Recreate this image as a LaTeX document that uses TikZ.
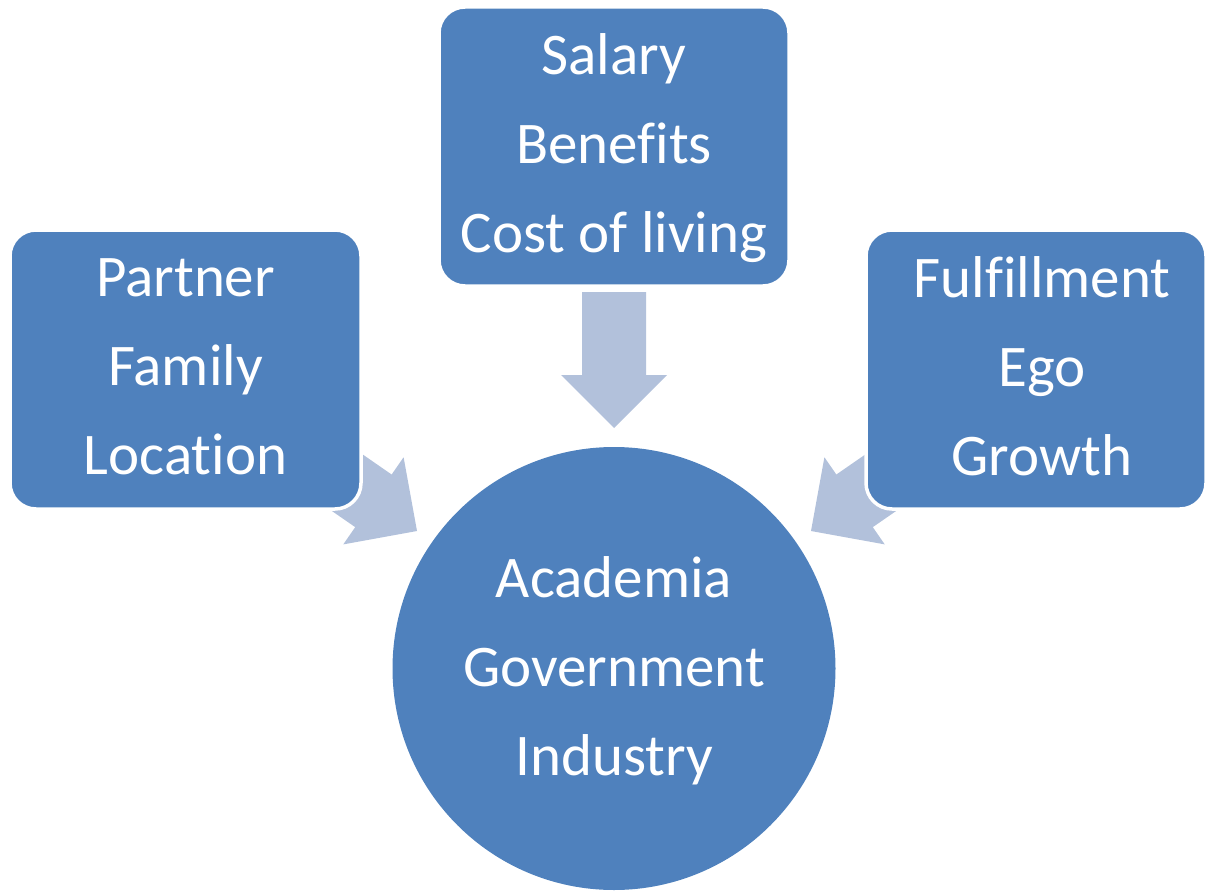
\documentclass[tikz,border=0pt]{standalone}
\usepackage{fontspec}
\setmainfont{Carlito}[Ligatures=NoCommon, RawFeature={-liga,-clig,-calt,-dlig}]
\definecolor{boxblue}{HTML}{4F81BD}
\definecolor{arrowblue}{HTML}{B2C1DB}
\newcommand{\lnstrut}{\rule[-16pt]{0pt}{54pt}}
\newcommand{\nl}{\kern0pt }
\tikzset{
  box/.style={fill=boxblue, draw=white, line width=3.5pt, rounded corners=26pt},
  bigcircle/.style={fill=boxblue, draw=none},
  label/.style={text=white, align=center, inner sep=0pt, font=\fontsize{59}{89}\selectfont},
  blockarrow/.style={fill=arrowblue, draw=none}
}
\begin{document}
\begin{tikzpicture}[x=1pt,y=1pt]
\useasboundingbox (0,0) rectangle (1207,-891);
% arrow tips
\coordinate (tipT) at (614,-428);
\coordinate (tipL) at (417,-531);
\coordinate (tipR) at (811,-531);
% block arrows (local: pointing along +x, tip at origin)
\foreach \t/\a in {tipT/-90, tipL/-34.7, tipR/-145.3}{
  \fill[blockarrow, shift={(\t)}, rotate=\a]
    (-136,32) -- (-53,32) -- (-53,53) -- (0,0) -- (-53,-53) -- (-53,-32) -- (-136,-32) -- cycle;
}
% boxes
\draw[box] (439,-7) rectangle (789,-286);
\coordinate (topc) at (614,-151);
\draw[box] (10,-230) rectangle (361,-509);
\coordinate (leftc) at (185.5,-374.5);
\draw[box] (866,-230) rectangle (1206,-509);
\coordinate (rightc) at (1042,-374.5);
% circle
\fill[bigcircle] (614,-668.5) circle (221.5);
\coordinate (circc) at (614,-674);
% labels
\node[label] (topt) at (topc) {\lnstrut Salary\\\lnstrut Benef\nl its\\\lnstrut Cost of living};
\node[label] (leftt) at (leftc) {\lnstrut Partner\\\lnstrut Family\\\lnstrut Locat\nl ion};
\node[label] (rightt) at (rightc) {\lnstrut Ful\nl f\nl il\nl l\nl ment\\\lnstrut Ego\\\lnstrut Growth};
\node[label] (circt) at (circc) {\lnstrut Academia\\\lnstrut Government\\\lnstrut Industry};
\end{tikzpicture}
\end{document}
